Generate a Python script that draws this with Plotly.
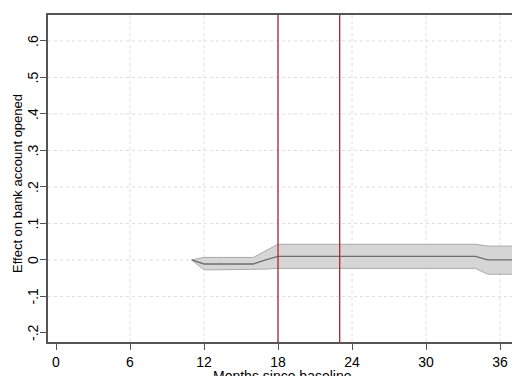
import plotly.graph_objects as go

months = [11, 12, 13, 14, 15, 16, 17, 18, 19, 20, 21, 22, 23, 24, 25, 26, 27, 28, 29, 30, 31, 32, 33, 34, 35, 36, 37]
effect = [0.0, -0.011, -0.011, -0.011, -0.011, -0.011, 0.0, 0.010, 0.010, 0.010, 0.010, 0.010, 0.010, 0.010, 0.010, 0.010, 0.010, 0.010, 0.010, 0.010, 0.010, 0.010, 0.010, 0.010, 0.0, 0.0, 0.0]
upper = [0.0, 0.007, 0.007, 0.007, 0.007, 0.007, 0.025, 0.043, 0.043, 0.043, 0.043, 0.043, 0.043, 0.043, 0.043, 0.043, 0.043, 0.043, 0.043, 0.043, 0.043, 0.043, 0.043, 0.043, 0.038, 0.038, 0.038]
lower = [0.0, -0.027, -0.027, -0.027, -0.027, -0.027, -0.025, -0.023, -0.023, -0.023, -0.023, -0.023, -0.023, -0.023, -0.023, -0.023, -0.023, -0.023, -0.023, -0.023, -0.023, -0.023, -0.023, -0.023, -0.039, -0.039, -0.039]
event_months = [18, 23]
x_ticks = [0, 6, 12, 18, 24, 30, 36]
y_ticks = [-0.2, -0.1, 0.0, 0.1, 0.2, 0.3, 0.4, 0.5, 0.6]
y_labels = ["-.2", "-.1", "0", ".1", ".2", ".3", ".4", ".5", ".6"]

FONT = "Liberation Sans, Arial, sans-serif"

fig = go.Figure()
fig.add_trace(go.Scatter(x=months, y=upper, mode="lines",
                         line=dict(color="#a9a9a9", width=1), hoverinfo="skip", showlegend=False))
fig.add_trace(go.Scatter(x=months, y=lower, mode="lines", fill="tonexty",
                         fillcolor="#d6d6d6",
                         line=dict(color="#a9a9a9", width=1), hoverinfo="skip", showlegend=False))
fig.add_trace(go.Scatter(x=months, y=effect, mode="lines",
                         line=dict(color="#6e6e6e", width=1.3), showlegend=False))

shapes = []
for xv in x_ticks[1:]:
    shapes.append(dict(type="line", xref="x", yref="paper", x0=xv, x1=xv, y0=0, y1=1,
                       line=dict(color="#dedede", width=1, dash="dot"), layer="below"))
for yv in y_ticks[1:]:
    shapes.append(dict(type="line", xref="paper", yref="y", x0=0, x1=1, y0=yv, y1=yv,
                       line=dict(color="#dedede", width=1, dash="dot"), layer="below"))
for xv in event_months:
    shapes.append(dict(type="line", xref="x", yref="paper", x0=xv, x1=xv, y0=0, y1=1,
                       line=dict(color="#b0232f", width=1.3), layer="above"))

annotations = [
    dict(text="Months since baseline", xref="paper", yref="paper",
         x=(282 - 48) / 464, y=(342 - 366) / 327, xanchor="center", yanchor="top",
         showarrow=False, font=dict(size=14, family=FONT)),
    dict(text="Effect on bank account opened", xref="paper", yref="paper",
         x=(18 - 48) / 464, y=(342 - 184) / 327, xanchor="center", yanchor="middle",
         textangle=-90, showarrow=False, font=dict(size=13, family=FONT)),
]
for yv, lab in zip(y_ticks, y_labels):
    annotations.append(dict(text=lab, xref="paper", yref="y", x=(33 - 48) / 464, y=yv,
                            xanchor="center", yanchor="middle", textangle=-90,
                            showarrow=False, font=dict(size=14, family=FONT)))

fig.update_layout(
    width=512, height=376,
    margin=dict(l=48, r=0, t=15, b=34),
    paper_bgcolor="white", plot_bgcolor="white",
    font=dict(family=FONT, size=13, color="black"),
    shapes=shapes,
    annotations=annotations,
    xaxis=dict(range=[-0.649, 36.97], tickvals=x_ticks, ticktext=[str(v) for v in x_ticks],
               showgrid=False, zeroline=False, showline=True, linecolor="#555555", linewidth=1.5,
               mirror=True, ticks="outside", ticklen=6, tickcolor="#555555",
               tickfont=dict(size=14, family=FONT)),
    yaxis=dict(range=[-0.2247, 0.671], tickvals=y_ticks, showticklabels=False,
               showgrid=False, zeroline=False, showline=True, linecolor="#555555", linewidth=1.5,
               ticks="outside", ticklen=6, tickcolor="#555555"),
)

fig.write_html("out.html")
